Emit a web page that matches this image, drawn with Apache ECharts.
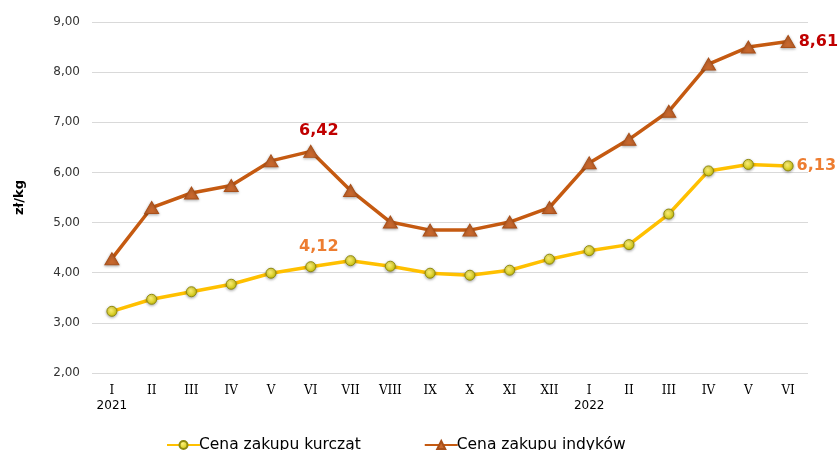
<!DOCTYPE html>
<html>
<head>
<meta charset="utf-8">
<script src="https://cdn.jsdelivr.net/npm/echarts@6/dist/echarts.min.js"></script>
<style>
  html, body { margin: 0; padding: 0; background: #fff; }
  #chart { width: 839px; height: 450px; }
</style>
</head>
<body>
<div id="chart"></div>
<script>
const months = ["I", "II", "III", "IV", "V", "VI", "VII", "VIII", "IX", "X", "XI", "XII",
  "I", "II", "III", "IV", "V", "VI"];
const years = { 0: "2021", 12: "2022" };
const chicken = [3.23, 3.47, 3.62, 3.77, 3.99, 4.12, 4.24, 4.13, 3.99, 3.95, 4.05, 4.27,
  4.44, 4.56, 5.17, 6.03, 6.16, 6.13];
const turkey = [4.28, 5.30, 5.59, 5.74, 6.23, 6.42, 5.64, 5.01, 4.85, 4.85, 5.01, 5.30,
  6.19, 6.66, 7.22, 8.16, 8.50, 8.61];
// which points get a value label and where
const chickenLabels = { 5: "top", 17: "right" };
const turkeyLabels = { 5: "top", 17: "right" };

const fmt = (v) => v.toFixed(2).replace(".", ",");

function withLabels(values, where, color) {
  return values.map((v, i) => {
    if (!where[i]) return v;
    const top = where[i] === "top";
    return {
      value: v,
      label: {
        show: true,
        position: where[i],
        distance: top ? 6 : 3,
        offset: top ? [8, 0] : [0, 0],
        formatter: (p) => fmt(p.value),
        color: color,
        fontFamily: "DejaVu Sans",
        fontWeight: "bold",
        fontSize: 16,
      },
    };
  });
}

const chart = echarts.init(document.getElementById("chart"));
chart.setOption({
  animation: false,
  grid: { left: 92, right: 31, top: 22, bottom: 77 },
  legend: {
    bottom: -8,
    left: 161,
    itemGap: 63,
    itemWidth: 33,
    itemHeight: 10,
    textStyle: { fontFamily: "DejaVu Sans", fontSize: 15.5, color: "#000", padding: [0, 0, 0, -6] },
    data: ["Cena zakupu kurcząt", "Cena zakupu indyków"],
  },
  xAxis: {
    type: "category",
    boundaryGap: true,
    data: months,
    axisLine: { show: false },
    axisTick: { show: false },
    axisLabel: {
      interval: 0,
      margin: 10,
      formatter: (v, i) => (years[i] ? "{r|" + v + "}\n{y|" + years[i] + "}" : "{r|" + v + "}"),
      rich: {
        r: { fontFamily: "DejaVu Serif", fontSize: 12, color: "#000", lineHeight: 15 },
        y: { fontFamily: "DejaVu Sans", fontSize: 12, color: "#000", lineHeight: 15 },
      },
    },
  },
  yAxis: {
    type: "value",
    min: 2,
    max: 9,
    interval: 1,
    name: "zł/kg",
    nameLocation: "middle",
    nameGap: 66,
    nameTextStyle: { fontFamily: "DejaVu Sans", fontWeight: "bold", fontSize: 13, color: "#000" },
    axisLine: { show: false },
    axisTick: { show: false },
    axisLabel: {
      formatter: (v) => fmt(v),
      fontFamily: "DejaVu Sans",
      fontSize: 12,
      color: "#333",
      margin: 12,
    },
    splitLine: { lineStyle: { color: "#d9d9d9", width: 1 } },
  },
  series: [
    {
      name: "Cena zakupu kurcząt",
      type: "line",
      data: withLabels(chicken, chickenLabels, "#ed7d31"),
      symbol: "circle",
      symbolSize: 10,
      lineStyle: { color: "#ffc000", width: 3.5 },
      itemStyle: {
        color: new echarts.graphic.RadialGradient(0.4, 0.35, 0.7, [
          { offset: 0, color: "#fff27a" },
          { offset: 1, color: "#c9c000" },
        ]),
        borderColor: "#8f8a10",
        borderWidth: 1,
        shadowColor: "rgba(0,0,0,0.35)",
        shadowBlur: 3,
        shadowOffsetY: 1,
      },
      z: 3,
    },
    {
      name: "Cena zakupu indyków",
      type: "line",
      data: withLabels(turkey, turkeyLabels, "#c00000"),
      symbol: "triangle",
      symbolSize: [14, 12],
      lineStyle: { color: "#c55a11", width: 3.5 },
      itemStyle: {
        color: "#c8682e",
        borderColor: "#a9501a",
        borderWidth: 1,
        shadowColor: "rgba(0,0,0,0.3)",
        shadowBlur: 3,
        shadowOffsetY: 1,
      },
      z: 4,
    },
  ],
});
</script>
</body>
</html>
